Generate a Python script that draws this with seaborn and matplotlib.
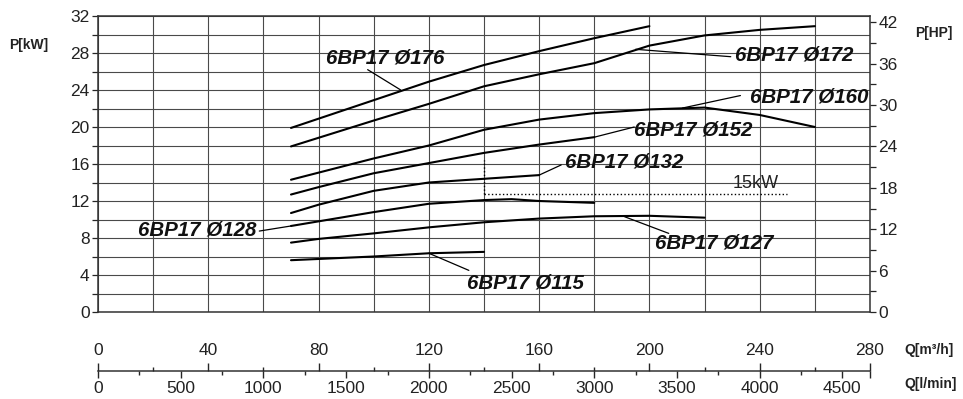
import numpy as np
import pandas as pd
import matplotlib.pyplot as plt
import seaborn as sns

# Q in m3/h, P in kW
q176 = [70, 100, 120, 140, 160, 180, 200]
p176 = [19.9, 22.9, 24.9, 26.7, 28.2, 29.6, 30.9]
q172 = [70, 100, 120, 140, 160, 180, 200, 220, 240, 260]
p172 = [17.9, 20.7, 22.5, 24.4, 25.7, 26.9, 28.8, 29.9, 30.5, 30.9]
q160 = [70, 100, 120, 140, 160, 180, 200, 220, 240, 260]
p160 = [14.3, 16.6, 18.0, 19.7, 20.8, 21.5, 21.9, 22.1, 21.3, 20.0]
q152 = [70, 80, 100, 120, 140, 160, 180]
p152 = [12.7, 13.5, 15.0, 16.1, 17.2, 18.1, 18.9]
q132 = [70, 80, 100, 120, 140, 160]
p132 = [10.7, 11.6, 13.1, 14.0, 14.4, 14.8]
q128 = [70, 80, 100, 120, 140, 150, 160, 180]
p128 = [9.3, 9.8, 10.8, 11.7, 12.1, 12.2, 12.0, 11.8]
q127 = [70, 80, 100, 120, 140, 160, 180, 200, 220]
p127 = [7.5, 7.9, 8.5, 9.15, 9.7, 10.1, 10.35, 10.4, 10.2]
q115 = [70, 100, 120, 140]
p115 = [5.6, 6.0, 6.35, 6.5]

curves = {
    '6BP17 Ø176': (q176, p176),
    '6BP17 Ø172': (q172, p172),
    '6BP17 Ø160': (q160, p160),
    '6BP17 Ø152': (q152, p152),
    '6BP17 Ø132': (q132, p132),
    '6BP17 Ø128': (q128, p128),
    '6BP17 Ø127': (q127, p127),
    '6BP17 Ø115': (q115, p115),
}

# label text position, leader start (on curve), leader end (at text)
labels = {
    '6BP17 Ø176': ((104, 27.5), (109.8, 24.0), (97.8, 26.2)),
    '6BP17 Ø172': ((252.5, 27.8), (195, 28.4), (229.5, 27.6)),
    '6BP17 Ø160': ((258, 23.2), (212, 22.05), (233, 23.4)),
    '6BP17 Ø152': ((216, 19.7), (180, 18.9), (194.5, 20.0)),
    '6BP17 Ø132': ((191, 16.2), (160, 14.8), (168, 15.9)),
    '6BP17 Ø128': ((36, 8.9), (70, 9.3), (58.5, 8.75)),
    '6BP17 Ø127': ((223.5, 7.45), (191, 10.3), (207, 8.5)),
    '6BP17 Ø115': ((155, 3.1), (120, 6.35), (134.5, 4.5)),
}

kw_per_hp = 0.7457

sns.set_style('white')
plt.rcParams['font.family'] = ['Liberation Sans', 'DejaVu Sans']

fig = plt.figure(figsize=(9.63, 3.99), dpi=100)
ax = fig.add_axes([98 / 963, 1 - 312 / 399, (870 - 98) / 963, 296 / 399])

for name, (q, p) in curves.items():
    df = pd.DataFrame({'Q': q, 'P': p})
    sns.lineplot(data=df, x='Q', y='P', ax=ax, color='black', lw=1.5,
                 errorbar=None, sort=True)

for name, (txt, a, b) in labels.items():
    ax.plot([a[0], b[0]], [a[1], b[1]], color='black', lw=0.9)
    ax.text(txt[0], txt[1], name, ha='center', va='center', fontsize=14.8,
            fontweight='bold', fontstyle='italic', color='#111')

# 15 kW limit marker
ax.plot([140, 140], [12.8, 16.4], color='black', lw=1, ls=':')
ax.plot([140, 250], [12.8, 12.8], color='black', lw=1, ls=':')
ax.text(238.5, 13.9, '15kW', ha='center', va='center', fontsize=13, color='#222')

ax.set_xlim(0, 280)
ax.set_ylim(0, 32)
ax.set_xticks(np.arange(0, 281, 20),
              [str(v) if v % 40 == 0 else '' for v in range(0, 281, 20)])
ax.set_yticks(np.arange(0, 33, 2),
              [str(v) if v % 4 == 0 else '' for v in range(0, 33, 2)])
ax.grid(True, color='#4a4a4a', lw=0.8)
ax.tick_params(axis='x', length=0, pad=22, labelsize=12.5, labelcolor='#222')
ax.tick_params(axis='y', direction='out', length=4, width=0.9, pad=2,
               labelsize=12.5, labelcolor='#222', left=True)
ax.set_xlabel('')
ax.set_ylabel('')
for s in ax.spines.values():
    s.set_color('#333')
    s.set_linewidth(1.1)

# right axis in HP
ax2 = ax.twinx()
ax2.set_ylim(0, 32 / kw_per_hp)
ax2.set_yticks(np.arange(0, 43, 3),
               [str(v) if v % 6 == 0 else '' for v in range(0, 43, 3)])
ax2.tick_params(axis='y', direction='out', length=4, width=0.9, pad=2,
                labelsize=12.5, labelcolor='#222', right=True)
for s in ax2.spines.values():
    s.set_visible(False)

# l/min scale below
to_l = (lambda q: q * 1000 / 60, lambda l: l * 60 / 1000)
sec = ax.secondary_xaxis(-0.2, functions=to_l)
lt = list(range(0, 4501, 500)) + [280 * 1000 / 60]
sec.set_xticks(lt, [str(v) for v in range(0, 4501, 500)] + [''])
sec.set_xticks(np.arange(250, 4700, 500), minor=True)
sec.tick_params(axis='x', which='major', direction='out', length=5, width=1,
                pad=2, labelsize=12.5, labelcolor='#222')
sec.tick_params(axis='x', which='minor', direction='out', length=3, width=1)
sec.spines['bottom'].set_linewidth(1.1)
sec.spines['bottom'].set_color('#333')

sec2 = ax.secondary_xaxis(-0.2)
sec2.set_xticks(np.arange(0, 281, 40), [''] * 8)
sec2.set_xticks(np.arange(20, 280, 40), minor=True)
sec2.tick_params(axis='x', which='major', direction='in', length=6, width=1)
sec2.tick_params(axis='x', which='minor', direction='in', length=3, width=1)
sec2.spines['bottom'].set_visible(False)

fig.text(9 / 963, 1 - 45 / 399, 'P[kW]', ha='left', va='center',
         fontsize=10, fontweight='bold', color='#222')
fig.text(915 / 963, 1 - 33 / 399, 'P[HP]', ha='left', va='center',
         fontsize=10, fontweight='bold', color='#222')
fig.text(904 / 963, 1 - 350 / 399, 'Q[m³/h]', ha='left', va='center',
         fontsize=10, fontweight='bold', color='#222')
fig.text(904 / 963, 1 - 384 / 399, 'Q[l/min]', ha='left', va='center',
         fontsize=10, fontweight='bold', color='#222')

fig.savefig('out.png', dpi=100)
